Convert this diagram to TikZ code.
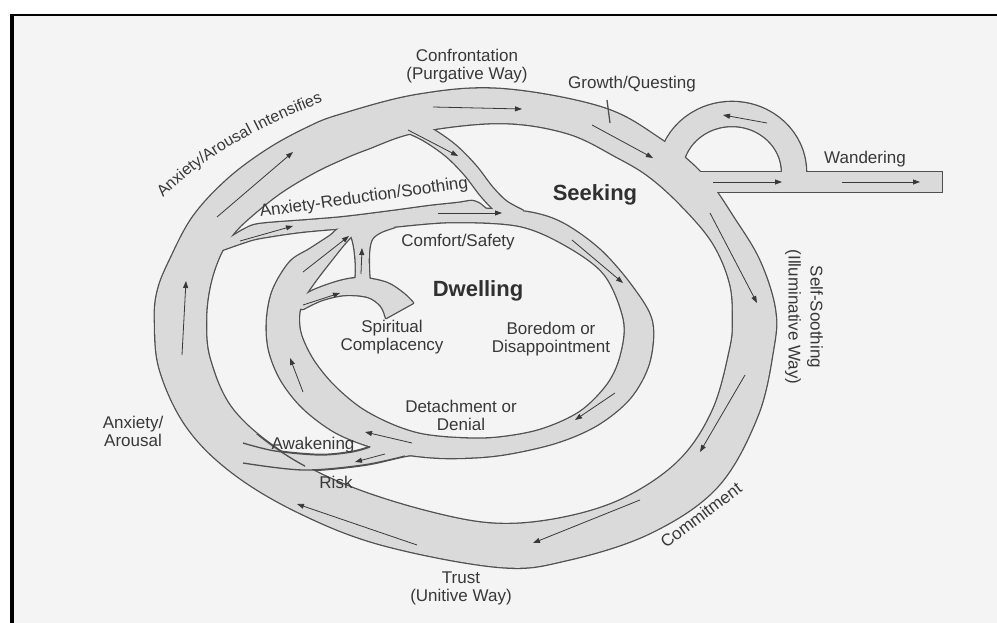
\documentclass[tikz,border=0pt]{standalone}
\usepackage{fontspec}
\setmainfont{Liberation Sans}
\usetikzlibrary{arrows.meta,decorations.text}
\definecolor{pagebg}{HTML}{F4F4F4}
\definecolor{bandfill}{HTML}{DADADA}
\definecolor{edge}{HTML}{505050}
\definecolor{ink}{HTML}{383838}

% outer ring (Seeking path)
\def\pthRingOut{plot[smooth cycle,tension=0.6] coordinates {(155,320) (160,370) (187,427) (233,473) (300,513) (383,545) (500,567) (567,560) (650,533) (717,487) (757,417) (773,350) (775,310) (760,262) (735,220) (703,175) (657,137) (600,107) (500,89) (417,95) (340,115) (307,128) (267,150) (227,180) (193,217) (170,260) (158,290)}}
\def\pthRingIn{plot[smooth cycle,tension=0.6] coordinates {(206,320) (210,360) (233,410) (283,453) (350,487) (433,513) (500,524) (567,517) (627,497) (680,460) (713,410) (730,350) (733,320) (730,283) (713,243) (683,207) (650,177) (617,157) (567,133) (500,123) (417,132) (367,149) (340,160) (313,173) (280,193) (250,217) (233,234) (220,255) (210,285)}}
% inner ring (Dwelling path)
\def\pthInnerOut{plot[smooth cycle,tension=0.55] coordinates {(290,262) (310,249) (330,236) (345,226) (400,214) (460,209) (520,211) (560,222) (600,250) (633,288) (652,322) (649,363) (630,398) (597,425) (555,443) (500,455) (450,458) (410,455) (372,447) (335,432) (303,408) (281,380) (269,350) (267,320) (273,290)}}
\def\pthInnerIn{plot[smooth cycle,tension=0.55] coordinates {(346,242) (356,233) (372,230) (400,226) (455,222) (520,226) (567,246) (605,275) (624,320) (621,355) (608,384) (580,412) (540,430) (495,438) (455,438) (420,434) (390,424) (360,408) (333,385) (313,360) (301,335) (299,315) (304,298) (316,280) (333,258)}}
% anxiety-reduction channel
\def\pthSoothe{plot[smooth,tension=0.55] coordinates {(222,242) (233,236) (245,229) (260,224) (310,220) (345,217) (393,211) (430,206) (458,203) (472,201) (480,204)} -- (492,214) -- plot[smooth,tension=0.55] coordinates {(470,220) (420,222) (345,228) (300,232) (260,238) (245,242) (222,250)} -- cycle}
% awakening channel
\def\pthWake{plot[smooth,tension=0.55] coordinates {(240,443) (275,451) (320,455) (352,452) (370,447)} -- (420,443) -- (460,447) -- plot[smooth,tension=0.55] coordinates {(460,456) (430,453) (405,456) (363,465) (303,470) (240,463)} -- cycle}
% spiritual complacency hook
\def\pthHook{plot[smooth,tension=0.55] coordinates {(296,302) (312,291) (340,281) (362,278) (387,283) (404,294) (413,303)} -- plot[smooth,tension=0.55] coordinates {(386,318) (381,306) (368,297) (345,295) (322,300) (303,309)} -- (292,307) -- cycle}
% short stem from the hook up to comfort/safety
\def\pthStem{plot[smooth,tension=0.55] coordinates {(354,290) (356,272) (355,253) (352,238) (346,228)} -- (380,220) -- plot[smooth,tension=0.55] coordinates {(395,227) (381,232) (372,239) (369,252) (369,272) (371,290)} -- cycle}
% confrontation branch
\def\pthBranch{plot[smooth,tension=0.55] coordinates {(398,121) (425,133) (450,150) (470,170) (487,192) (502,207) (520,217)}}
% wandering loop
\def\pthLoop{(693,200) -- (670,172) arc[start angle=180,end angle=360,x radius=62,y radius=58] -- (794,182)}

\tikzset{
  flow/.style={draw=ink, line width=0.8, -{Triangle[length=7pt,width=5pt]}},
  edgeline/.style={draw=edge, line width=1.3},
  lbl/.style={text=ink, font=\fontsize{17pt}{18pt}\selectfont, align=center, inner sep=0pt},
  biglbl/.style={text=ink!85!black, font=\fontsize{22pt}{24pt}\selectfont\bfseries, inner sep=0pt}
}

\begin{document}
\begin{tikzpicture}[x=1pt,y=-1pt,line cap=butt,line join=round]
\useasboundingbox (0,0) rectangle (997,623);
\fill[white] (0,0) rectangle (997,623);
\fill[pagebg] (12,15) rectangle (997,623);
\draw[black,line width=4] (12,623) -- (12,14);
\draw[black,line width=2] (10,15) -- (997,15);

% first pass: all outlines
\begin{scope}[draw=edge,line width=2.6]
  \draw \pthRingOut \pthRingIn;
  \draw \pthInnerOut \pthInnerIn;
  \draw \pthSoothe;
  \draw \pthWake;
  \draw \pthHook;
  \draw \pthStem;
  \draw[line width=16.6] \pthBranch;
  \draw[line width=26.6] \pthLoop;
  \draw[line width=22.6] (695,182) -- (943.3,182);
\end{scope}

% second pass: all fills
\begin{scope}[fill=bandfill,draw=bandfill]
  \fill[even odd rule] \pthRingOut \pthRingIn;
  \fill[even odd rule] \pthInnerOut \pthInnerIn;
  \fill \pthSoothe;
  \fill \pthWake;
  \fill \pthHook;
  \fill \pthStem;
  \draw[line width=14] \pthBranch;
  \draw[line width=24] \pthLoop;
  \draw[line width=20] (695,182) -- (942,182);
\end{scope}

% edges that stay visible where the awakening channel crosses the ring
\begin{scope}
  \clip (225,434) rectangle (305,478);
  \draw[edgeline] \pthRingIn;
\end{scope}
\draw[edgeline] plot[smooth,tension=0.55] coordinates {(243,443) (275,451) (320,455) (352,452) (370,447)};
\draw[edgeline] plot[smooth,tension=0.55] coordinates {(243,463) (303,470) (363,465) (405,456)};
\draw[edgeline] (607,100) -- (610,123);

% flow arrows
\draw[flow] (433,107) -- (522,109);
\draw[flow] (592,125) -- (653,158);
\draw[flow] (710,213) -- (757,303);
\draw[flow] (745,375) -- (700,452);
\draw[flow] (640,500) -- (533,543);
\draw[flow] (417,545) -- (297,504);
\draw[flow] (182,355) -- (186,281);
\draw[flow] (217,217) -- (293,152);
\draw[flow] (408,130) -- (458,156);
\draw[flow] (240,241) -- (293,226);
\draw[flow] (438,213) -- (502,213);
\draw[flow] (572,240) -- (623,283);
\draw[flow] (615,393) -- (575,420);
\draw[flow] (412,443) -- (365,432);
\draw[flow] (303,392) -- (290,358);
\draw[flow] (303,272) -- (349,236);
\draw[flow] (303,305) -- (340,293);
\draw[flow] (361,274) -- (362,248);
\draw[flow] (385,454) -- (355,462);
\draw[flow] (767,123) -- (723,115);
\draw[flow] (713,182) -- (782,182);
\draw[flow] (842,182) -- (920,182);

% labels
\node[lbl] (confront) at (467,66) {Confrontation\\(Purgative Way)};
\node[lbl] (growth) at (632,84) {Growth/Questing};
\node[lbl] (wander) at (865,159) {Wandering};
\node[biglbl] (seeking) at (595,195) {Seeking};
\node[biglbl] (dwelling) at (478,291) {Dwelling};
\node[lbl] (comfort) at (458,242) {Comfort/Safety};
\node[lbl] (complacent) at (392,337) {Spiritual\\Complacency};
\node[lbl] (boredom) at (551,339) {Boredom or\\Disappointment};
\node[lbl] (detach) at (461,415) {Detachment or\\Denial};
\node[lbl] (awaken) at (313,445) {Awakening};
\node[lbl] (risk) at (336,482) {Risk};
\node[lbl] (arousal) at (133,431) {Anxiety/\\Arousal};
\node[lbl] (trust) at (461,588) {Trust\\(Unitive Way)};
\node[lbl,rotate=37] (commit) at (701,515) {Commitment};
\node[lbl,rotate=-90,font=\fontsize{17pt}{22pt}\selectfont] (selfsooth) at (804,317) {Self-Soothing\\(Illuminative Way)};
\node[lbl,rotate=8] (reduce) at (364,198) {Anxiety-Reduction/Soothing};
\path[decorate,decoration={text along path,text align=center,text color=ink,
  text={|\fontsize{16pt}{18pt}\selectfont|Anxiety/Arousal Intensifies}}]
  (163,198) .. controls (207,153) and (266,124) .. (323,102);
\end{tikzpicture}
\end{document}
